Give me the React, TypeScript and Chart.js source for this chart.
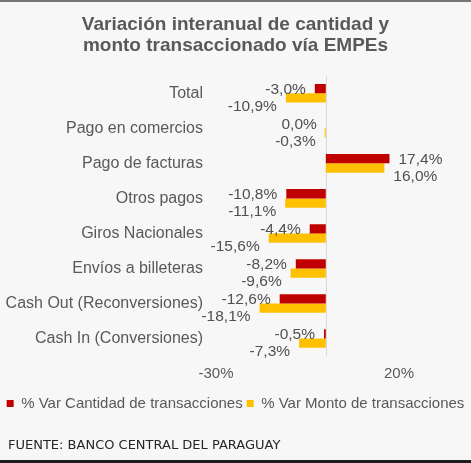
import React, { useEffect, useRef } from 'react';
import { Chart, registerables } from 'chart.js';

Chart.register(...registerables);

const categories = [
  'Total',
  'Pago en comercios',
  'Pago de facturas',
  'Otros pagos',
  'Giros Nacionales',
  'Envíos a billeteras',
  'Cash Out (Reconversiones)',
  'Cash In (Conversiones)',
];
const cantidad = [-3.0, 0.0, 17.4, -10.8, -4.4, -8.2, -12.6, -0.5];
const monto = [-10.9, -0.3, 16.0, -11.1, -15.6, -9.6, -18.1, -7.3];
const xTicks = [-30, 20];

const TEXT = '#595959';
const fmt = (v: number) => v.toFixed(1).replace('.', ',') + '%';

const framePlugin = {
  id: 'frame',
  beforeDraw(chart: any) {
    const { ctx, width, height } = chart;
    ctx.save();
    ctx.fillStyle = '#f7f7f7';
    ctx.fillRect(0, 0, width, height);
    ctx.fillStyle = '#767676';
    ctx.fillRect(0, 0, width, 2);
    ctx.fillStyle = '#1e1e1e';
    ctx.fillRect(0, height - 3, width, 3);
    ctx.restore();
  },
  beforeDatasetsDraw(chart: any) {
    const { ctx, chartArea } = chart;
    const x = Math.round(chart.scales.x.getPixelForValue(0)) + 0.5;
    ctx.save();
    ctx.strokeStyle = '#d9d9d9';
    ctx.lineWidth = 1;
    ctx.beginPath();
    ctx.moveTo(x, chartArea.top);
    ctx.lineTo(x, chartArea.bottom);
    ctx.stroke();
    ctx.restore();
  },
  afterDatasetsDraw(chart: any) {
    const { ctx } = chart;
    ctx.save();
    ctx.font = '15.5px "Liberation Sans", Arial, sans-serif';
    ctx.fillStyle = '#505050';
    ctx.textBaseline = 'middle';
    chart.data.datasets.forEach((ds: any, i: number) => {
      const meta = chart.getDatasetMeta(i);
      meta.data.forEach((bar: any, j: number) => {
        const v = ds.data[j];
        const dy = i === 1 ? 9 : 1;
        if (v > 0) {
          ctx.textAlign = 'left';
          ctx.fillText(fmt(v), bar.x + 9, bar.y + dy);
        } else {
          ctx.textAlign = 'right';
          ctx.fillText(fmt(v), bar.x - 9, bar.y + dy);
        }
      });
    });
    ctx.restore();
  },
  afterDraw(chart: any) {
    const { ctx } = chart;
    ctx.save();
    ctx.font = '13px "DejaVu Sans", sans-serif';
    ctx.fillStyle = '#262626';
    ctx.textAlign = 'left';
    ctx.textBaseline = 'middle';
    ctx.fillText('FUENTE: BANCO CENTRAL DEL PARAGUAY', 8, 446);
    ctx.restore();
  },
};

const App = () => {
  const chartRef = useRef<HTMLCanvasElement>(null);

  useEffect(() => {
    document.body.style.margin = '0';
    if (!chartRef.current) return;
    const myChart = new Chart(chartRef.current, {
      type: 'bar',
      data: {
        labels: categories,
        datasets: [
          {
            label: '% Var Cantidad de transacciones',
            data: cantidad,
            backgroundColor: '#C00000',
            borderWidth: 0,
            barPercentage: 1,
            categoryPercentage: 0.53,
            yAxisID: 'y',
          },
          {
            label: '% Var Monto de transacciones',
            data: monto,
            backgroundColor: '#FFC000',
            borderWidth: 0,
            barPercentage: 1,
            categoryPercentage: 0.53,
            yAxisID: 'y',
          },
        ],
      },
      options: {
        indexAxis: 'y',
        animation: false,
        responsive: true,
        maintainAspectRatio: false,
        layout: { padding: { top: 0, left: 0, right: 0, bottom: 42 } },
        scales: {
          y: {
            type: 'category',
            position: 'left',
            grid: { display: false, drawTicks: false },
            border: { display: false },
            ticks: {
              color: TEXT,
              padding: 13,
              font: { family: '"Liberation Sans", Arial, sans-serif', size: 16 },
            },
            afterFit(scale: any) {
              scale.width = 216;
            },
          },
          yRight: {
            type: 'category',
            position: 'right',
            grid: { display: false, drawTicks: false },
            border: { display: false },
            ticks: { display: false },
            afterFit(scale: any) {
              scale.width = 72;
            },
          },
          x: {
            type: 'linear',
            min: -30,
            max: 20,
            grid: { display: false, drawTicks: false },
            border: { display: false },
            afterBuildTicks(scale: any) {
              scale.ticks = xTicks.map((v) => ({ value: v }));
            },
            afterFit(scale: any) {
              scale.height = 36;
            },
            ticks: {
              color: TEXT,
              padding: 9,
              font: { family: '"Liberation Sans", Arial, sans-serif', size: 15 },
              callback: (v: any) => v + '%',
            },
          },
        },
        plugins: {
          title: {
            display: true,
            text: ['Variación interanual de cantidad y', 'monto transaccionado vía EMPEs'],
            color: TEXT,
            font: { family: '"Liberation Sans", Arial, sans-serif', size: 19, weight: 'bold', lineHeight: 1.1 },
            padding: { top: 14, bottom: 20 },
          },
          legend: {
            position: 'bottom',
            labels: {
              boxWidth: 7,
              boxHeight: 7,
              padding: 4,
              color: TEXT,
              font: { family: '"Liberation Sans", Arial, sans-serif', size: 15 },
            },
          },
          tooltip: { enabled: false },
        },
      },
      plugins: [framePlugin],
    });

    return () => {
      myChart.destroy();
    };
  }, []);

  return (
    <div style={{ position: 'relative', width: 471, height: 463 }}>
      <canvas ref={chartRef} />
    </div>
  );
};

export default App;
